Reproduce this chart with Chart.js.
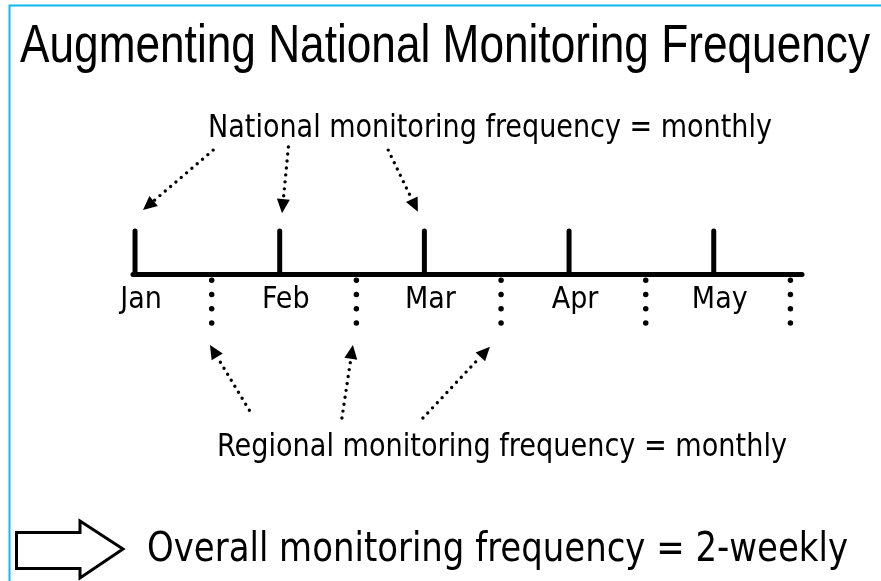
<!DOCTYPE html>
<html><head><meta charset="utf-8">
<script src="https://cdn.jsdelivr.net/npm/chart.js@4.4.1/dist/chart.umd.min.js"></script>
<style>html,body{margin:0;padding:0;background:#fff;} #wrap{width:881px;height:581px;position:relative;}</style>
</head><body><div id="wrap"><canvas id="c" width="881" height="581"></canvas></div>
<script>
// ---- content / data ----
const titleText = 'Augmenting National Monitoring Frequency';
const months = ['Jan', 'Feb', 'Mar', 'Apr', 'May'];
const monthPos = [0, 1, 2, 3, 4];            // national monitoring dates (month index)
const midPos = [0.53, 1.53, 2.53, 3.53, 4.53]; // regional monitoring dates (month index)
const nationalLabel = 'National monitoring frequency = monthly';
const regionalLabel = 'Regional monitoring frequency = monthly';
const overallLabel = 'Overall monitoring frequency = 2-weekly';

// ---- layout (scale extents, in month / tick-height units) ----
const X_MIN = -0.014, X_MAX = 4.61;
const Y_MIN = -7.046, Y_MAX = 6.31;
const TITLE_FONT = '"Liberation Sans", Arial, sans-serif';
const LABEL_FONT = '"DejaVu Sans Condensed", "Liberation Sans", sans-serif';

const datasets = [];
// timeline
datasets.push({ data: [{x: X_MIN, y: 0}, {x: X_MAX, y: 0}], borderColor: '#000', borderWidth: 5,
  borderCapStyle: 'round' });
// national (month) ticks
monthPos.forEach(m => datasets.push({ data: [{x: m, y: 0}, {x: m, y: 1}], borderColor: '#000',
  borderWidth: 5, borderCapStyle: 'round' }));
// regional dotted ticks
midPos.forEach(m => datasets.push({ data: [{x: m, y: -0.13}, {x: m, y: -1.12}], borderColor: '#000',
  borderWidth: 5.5, borderCapStyle: 'round', borderDash: [0, 14.3] }));
datasets.forEach(d => { d.showLine = true; d.pointRadius = 0; d.clip = false; d.tension = 0; });

function drawText(ctx, text, x, y, font, align, maxWidth) {
  ctx.font = font; ctx.textAlign = align; ctx.textBaseline = 'alphabetic';
  if (maxWidth) ctx.fillText(text, x, y, maxWidth); else ctx.fillText(text, x, y);
}

const diagramPlugin = {
  id: 'diagram',
  afterDraw(chart, args, opts) {
    const ctx = chart.ctx, xs = chart.scales.x, ys = chart.scales.y;
    const P = (p) => [xs.getPixelForValue(p[0]), ys.getPixelForValue(p[1])];
    ctx.save();
    // frame
    ctx.strokeStyle = '#0DBAF2'; ctx.lineWidth = 2;
    ctx.beginPath(); ctx.moveTo(9.5, 581); ctx.lineTo(9.5, 5.5); ctx.lineTo(881, 5.5); ctx.stroke();
    // dotted arrows
    opts.arrows.forEach(a => {
      const [tx, ty] = P(a[0]); const [hx, hy] = P(a[1]);
      const dx = hx - tx, dy = hy - ty, len = Math.hypot(dx, dy);
      const ux = dx / len, uy = dy / len, L = 14, W = 6.5;
      const bx = hx - ux * L, by = hy - uy * L;
      ctx.strokeStyle = '#000'; ctx.lineWidth = 3.4; ctx.lineCap = 'round'; ctx.setLineDash([0, 7]);
      ctx.beginPath(); ctx.moveTo(tx, ty); ctx.lineTo(bx, by); ctx.stroke();
      ctx.setLineDash([]);
      ctx.fillStyle = '#000';
      ctx.beginPath(); ctx.moveTo(hx, hy); ctx.lineTo(bx - uy * W, by + ux * W);
      ctx.lineTo(bx + uy * W, by - ux * W); ctx.closePath(); ctx.fill();
    });
    // block arrow
    ctx.lineWidth = 3; ctx.lineJoin = 'miter'; ctx.strokeStyle = '#000'; ctx.fillStyle = '#fff';
    ctx.beginPath();
    ctx.moveTo(16.5, 532.5); ctx.lineTo(80, 532.5); ctx.lineTo(80, 521); ctx.lineTo(123, 549);
    ctx.lineTo(80, 578); ctx.lineTo(80, 568.5); ctx.lineTo(16.5, 568.5); ctx.closePath();
    ctx.fill(); ctx.stroke();
    // texts
    ctx.fillStyle = '#000';
    drawText(ctx, titleText, 20, 62, '53px ' + TITLE_FONT, 'left', 850);
    drawText(ctx, nationalLabel, 490, 137, '32px ' + LABEL_FONT, 'center', 564);
    drawText(ctx, regionalLabel, 502, 456, '32px ' + LABEL_FONT, 'center', 570);
    drawText(ctx, overallLabel, 147, 561, '41px ' + LABEL_FONT, 'left', 701);
    // month labels on the time axis
    const baseY = ys.getPixelForValue(0) + 34;
    months.forEach((m, i) => drawText(ctx, m, xs.getPixelForValue(monthPos[i]) + 6, baseY,
      '30px ' + LABEL_FONT, 'center'));
    ctx.restore();
  }
};

new Chart(document.getElementById('c'), {
  type: 'scatter',
  data: { datasets },
  plugins: [diagramPlugin],
  options: {
    responsive: false, animation: false, devicePixelRatio: 1,
    layout: { padding: { left: 133, right: 79, top: 0, bottom: 0 } },
    plugins: {
      legend: { display: false }, tooltip: { enabled: false },
      diagram: {
        arrows: [
          [[0.54, 2.86], [0.055, 1.48]],
          [[1.06, 2.93], [1.016, 1.41]],
          [[1.75, 2.86], [1.955, 1.44]],
          [[0.79, -3.12], [0.518, -1.62]],
          [[1.43, -3.30], [1.506, -1.62]],
          [[1.99, -3.30], [2.453, -1.66]]
        ]
      }
    },
    scales: {
      x: { type: 'linear', min: X_MIN, max: X_MAX, display: false },
      y: { type: 'linear', min: Y_MIN, max: Y_MAX, display: false }
    }
  }
});
</script></body></html>
